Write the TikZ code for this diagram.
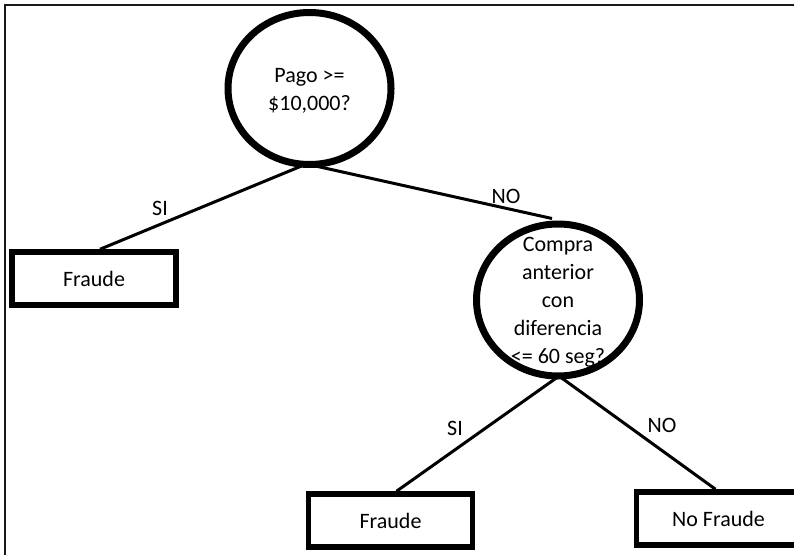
\documentclass[tikz,border=0pt]{standalone}
\usepackage{fontspec}
\setmainfont{Carlito}
\usetikzlibrary{shapes.geometric}
\begin{document}
\begin{tikzpicture}[x=1pt,y=-1pt,
  txt/.style={font=\fontsize{22}{28}\selectfont, align=center, inner sep=0pt},
  decision/.style={txt, ellipse, draw=black, line width=7pt,
    minimum width=163pt, minimum height=152pt},
  leaf/.style={txt, rectangle, draw=black, line width=5.5pt,
    minimum width=164pt, minimum height=53pt},
  branch/.style={draw=black, line width=3pt},
  blabel/.style={txt}]
\path[use as bounding box] (0,0) rectangle (794,554);
\clip (0,0) rectangle (794,554);
\fill[white] (0,0) rectangle (794,554);

% outer frame
\draw[line width=2pt, black!90] (5,560) -- (5,4.5) -- (800,4.5);

% decision nodes
\node[decision] (q1) at (309.5,88.5) {};
\node[txt] (q1t) at (309.5,91) {Pago >=\\\$10,000?};
\node[decision] (q2) at (558,300) {};
\node[txt] (q2t) at (558,302) {Compra\\anterior\\con\\diferencia\\<= 60 seg?};

% leaves
\node[leaf] (f1) at (94,278.5) {Fraude};
\node[leaf] (f2) at (390.5,520.5) {Fraude};
\node[leaf] (f3) at (718.5,518.5) {No Fraude};

% branches
\draw[branch] ([xshift=-8pt,yshift=2pt]q1.south) -- ([xshift=6pt]f1.north);
\draw[branch] ([xshift=6pt,yshift=2pt]q1.south) -- ([xshift=-6pt,yshift=2pt]q2.north);
\draw[branch] ([xshift=-1pt,yshift=2pt]q2.south) -- ([xshift=6pt]f2.north);
\draw[branch] ([xshift=3pt,yshift=2pt]q2.south) -- ([xshift=-3pt]f3.north);

% branch labels
\node[blabel] (l1) at (160,208) {SI};
\node[blabel] (l2) at (506,196) {NO};
\node[blabel] (l3) at (455,428) {SI};
\node[blabel] (l4) at (662,425) {NO};
\end{tikzpicture}
\end{document}
